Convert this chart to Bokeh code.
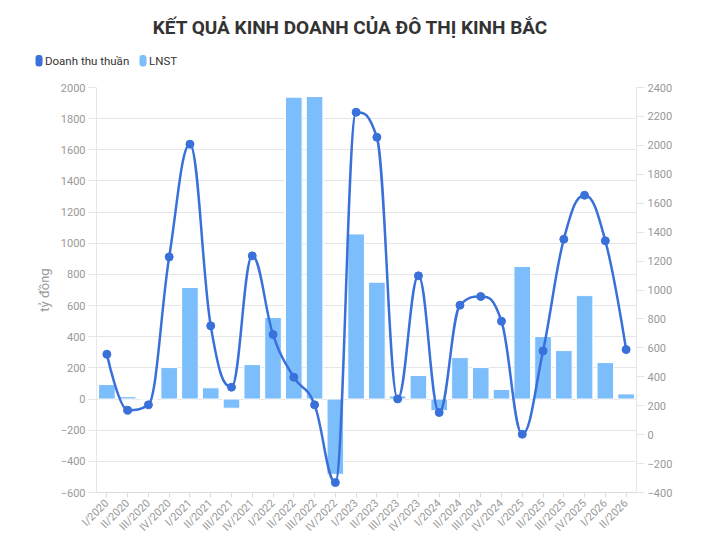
import math
from bokeh.plotting import figure
from bokeh.layouts import column
from bokeh.models import ColumnDataSource, Range1d, LinearAxis, FixedTicker
from bokeh.core.properties import value
from bokeh.embed import file_html
from bokeh.resources import INLINE

# ---------------- data ----------------
categories = ["I/2020", "II/2020", "III/2020", "IV/2020",
              "I/2021", "II/2021", "III/2021", "IV/2021",
              "I/2022", "II/2022", "III/2022", "IV/2022",
              "I/2023", "II/2023", "III/2023", "IV/2023",
              "I/2024", "II/2024", "III/2024", "IV/2024",
              "I/2025", "II/2025", "III/2025", "IV/2025",
              "I/2026", "II/2026"]
lnst = [93, 15, -5, 202, 716, 72, -59, 221,
        524, 1938, 1942, -483, 1060, 750, 20, 151,
        -75, 266, 202, 61, 851, 401, 311, 664,
        234, 33]
doanh_thu = [556, 169, 206, 1229, 2008, 752, 328, 1236,
             692, 397, 206, -331, 2229, 2056, 247, 1098,
             153, 895, 955, 784, 3, 579, 1351, 1655,
             1340, 588]
left_ticks = list(range(-600, 2001, 200))
right_ticks = list(range(-400, 2401, 200))
series_names = ["Doanh thu thuần", "LNST"]

TITLE = "KẾT QUẢ KINH DOANH CỦA ĐÔ THỊ KINH BẮC"
LINE_COLOR = "#3a70d9"
BAR_COLOR = "#7cbdfb"
GRID = "#e6e6e6"
LABEL = "#999999"
FONT = "Roboto"
W = 708
HEAD_H = 77
MAIN_H = 480

xs = list(range(len(categories)))


def spline(xv, yv, smoothing=1.5):
    """Highcharts-like spline: cubic bezier segments between points."""
    n = len(xv)
    lc = [None] * n
    rc = [None] * n
    d = smoothing + 1
    for i in range(1, n - 1):
        px, py = xv[i], yv[i]
        lx, ly = xv[i - 1], yv[i - 1]
        nx, ny = xv[i + 1], yv[i + 1]
        lcx = (smoothing * px + lx) / d
        lcy = (smoothing * py + ly) / d
        rcx = (smoothing * px + nx) / d
        rcy = (smoothing * py + ny) / d
        if rcx != lcx:
            corr = ((rcy - lcy) * (rcx - px)) / (rcx - lcx) + py - rcy
            lcy += corr
            rcy += corr
        if lcy > ly and lcy > py:
            lcy = max(ly, py); rcy = 2 * py - lcy
        elif lcy < ly and lcy < py:
            lcy = min(ly, py); rcy = 2 * py - lcy
        if rcy > ny and rcy > py:
            rcy = max(ny, py); lcy = 2 * py - rcy
        elif rcy < ny and rcy < py:
            rcy = min(ny, py); lcy = 2 * py - rcy
        lc[i] = (lcx, lcy)
        rc[i] = (rcx, rcy)
    seg = dict(x0=[], y0=[], x1=[], y1=[], cx0=[], cy0=[], cx1=[], cy1=[])
    for i in range(1, n):
        s = (xv[i - 1], yv[i - 1])
        e = (xv[i], yv[i])
        c0 = rc[i - 1] or s
        c1 = lc[i] or e
        seg["x0"].append(s[0]); seg["y0"].append(s[1])
        seg["x1"].append(e[0]); seg["y1"].append(e[1])
        seg["cx0"].append(c0[0]); seg["cy0"].append(c0[1])
        seg["cx1"].append(c1[0]); seg["cy1"].append(c1[1])
    return seg


# ---------------- header: title + legend (pixel coordinates) ----------------
h = figure(width=W, height=HEAD_H, output_backend="svg", toolbar_location=None,
           x_range=Range1d(0, W), y_range=Range1d(HEAD_H, 0),
           x_axis_type=None, y_axis_type=None,
           min_border=0, min_border_left=0, min_border_right=0,
           min_border_top=0, min_border_bottom=0)
h.frame_align = False
h.outline_line_color = None
h.xgrid.visible = False
h.ygrid.visible = False
h.text(x=[350], y=[27], text=[TITLE], text_align="center",
       text_baseline="middle", text_font=value(FONT),
       text_font_size="19px", text_font_style="bold", text_color="#333333")
h.quad(left=[35, 139], right=[42, 146], top=[54.5, 54.5], bottom=[66, 66],
       fill_color=[LINE_COLOR, BAR_COLOR], line_color=None, border_radius=3)
h.text(x=[44.5, 148.5], y=[60.5, 60.5], text=series_names,
       text_align="left", text_baseline="middle", text_font=value(FONT),
       text_font_size="11.5px", text_color="#333333")

# ---------------- main chart ----------------
p = figure(width=W, height=MAIN_H, output_backend="svg", toolbar_location=None,
           x_range=Range1d(-0.5, len(categories) - 0.5),
           y_range=Range1d(left_ticks[0], left_ticks[-1]),
           min_border_left=96, min_border_right=72,
           min_border_top=10, min_border_bottom=65)
p.frame_align = False
p.extra_y_ranges = {"right": Range1d(right_ticks[0], right_ticks[-1])}
p.outline_line_color = None

# bars (LNST, left axis)
bar_src = ColumnDataSource(dict(x=xs, top=lnst))
p.vbar(x="x", top="top", bottom=0, width=0.8, source=bar_src,
       fill_color=BAR_COLOR, line_color="white", line_width=1)

# spline line (Doanh thu thuần, right axis)
seg = spline(xs, doanh_thu)
p.bezier(source=ColumnDataSource(seg), x0="x0", y0="y0", x1="x1", y1="y1",
         cx0="cx0", cy0="cy0", cx1="cx1", cy1="cy1",
         line_color=LINE_COLOR, line_width=2.5, line_cap="round",
         y_range_name="right")
p.scatter(xs, doanh_thu, size=8, fill_color=LINE_COLOR, line_color=LINE_COLOR,
          y_range_name="right")

# axes
yl = p.yaxis[0]
yl.ticker = FixedTicker(ticks=left_ticks)
yl.axis_label = "tỷ đồng"
yl.axis_label_text_font = FONT
yl.axis_label_text_font_size = "13px"
yl.axis_label_text_font_style = "normal"
yl.axis_label_text_color = LABEL
yl.axis_label_standoff = 6

yr = LinearAxis(y_range_name="right", ticker=FixedTicker(ticks=right_ticks))
p.add_layout(yr, "right")

for ax in (yl, yr):
    ax.axis_line_color = GRID
    ax.major_tick_line_color = GRID
    ax.major_tick_out = 8
    ax.major_tick_in = 0
    ax.minor_tick_line_color = None
    ax.major_label_text_font = FONT
    ax.major_label_text_font_size = "11px"
    ax.major_label_text_color = LABEL
    ax.major_label_standoff = 3

xa = p.xaxis[0]
xa.ticker = FixedTicker(ticks=xs)
xa.major_label_overrides = {i: c for i, c in zip(xs, categories)}
xa.major_label_orientation = math.pi / 4
xa.axis_line_color = "#dcdcdc"
xa.major_tick_line_color = "#dcdcdc"
xa.major_tick_out = 5
xa.major_tick_in = 0
xa.minor_tick_line_color = None
xa.major_label_text_font = FONT
xa.major_label_text_font_size = "11px"
xa.major_label_text_color = LABEL
xa.major_label_standoff = 4

p.ygrid.ticker = FixedTicker(ticks=left_ticks)
p.ygrid.grid_line_color = GRID
p.xgrid.grid_line_color = None

page = column(h, p, spacing=0)
open("out.html", "w").write(file_html(page, INLINE))
